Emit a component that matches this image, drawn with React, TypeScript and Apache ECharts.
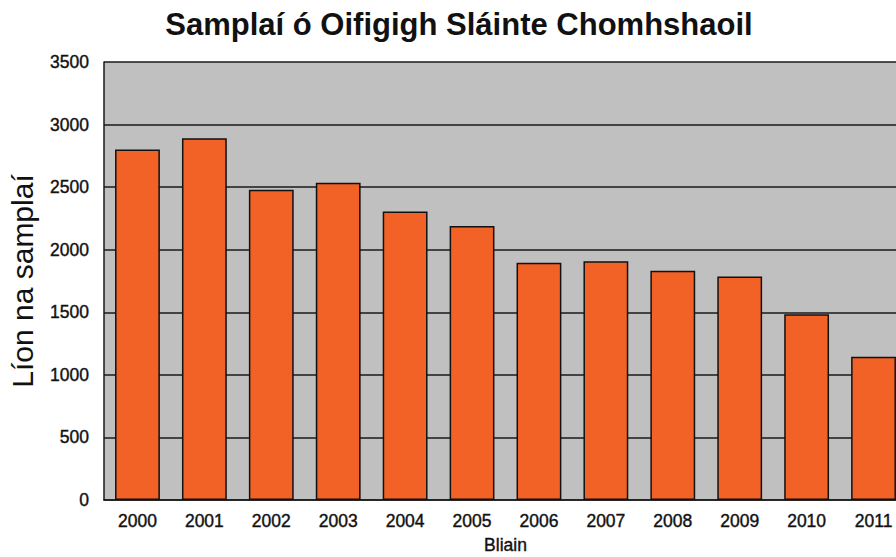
import React, { useEffect, useRef } from "react";
import * as echarts from "echarts";

const categories = ["2000", "2001", "2002", "2003", "2004", "2005", "2006", "2007", "2008", "2009", "2010", "2011"];
const samples = [2800, 2890, 2480, 2536, 2305, 2189, 1895, 1908, 1831, 1785, 1484, 1145];
const yTicks = { min: 0, max: 3500, interval: 500 };

const titleText = "Samplaí ó Oifigigh Sláinte Chomhshaoil";
const yName = "Líon na samplaí";
const xName = "Bliain";

export default function App() {
  const ref = useRef<HTMLDivElement>(null);
  useEffect(() => {
    if (!ref.current) return;
    const chart = echarts.init(ref.current, null, { renderer: "svg" });
    const font = "'Liberation Sans', Arial, sans-serif";
    const heavy = { textBorderColor: "#111", textBorderWidth: 0.4 };
    chart.setOption({
      animation: false,
      backgroundColor: "#ffffff",
      title: {
        text: titleText,
        left: 454,
        textAlign: "center",
        top: 4,
        textStyle: { fontFamily: font, fontSize: 31, fontWeight: "bold", color: "#111" },
      },
      grid: {
        left: 104,
        top: 62,
        bottom: 57,
        right: -11,
        outerBoundsMode: "none",
        containLabel: false,
        show: true,
        backgroundColor: "#c0c0c0",
        borderWidth: 0,
      },
      xAxis: {
        type: "category",
        data: categories,
        name: xName,
        nameLocation: "middle",
        nameGap: 36,
        nameTextStyle: { fontFamily: font, fontSize: 17.5, color: "#111", ...heavy },
        axisLine: { show: true, lineStyle: { color: "#1a1a1a", width: 1.5 } },
        axisTick: { show: false },
        axisLabel: { fontFamily: font, fontSize: 17.5, color: "#111", margin: 12, ...heavy },
      },
      yAxis: {
        type: "value",
        min: yTicks.min,
        max: yTicks.max,
        interval: yTicks.interval,
        name: yName,
        nameLocation: "middle",
        nameGap: 67,
        nameTextStyle: { fontFamily: font, fontSize: 30, color: "#111" },
        axisLine: { show: true, lineStyle: { color: "#1a1a1a", width: 1.5 } },
        axisTick: { show: false },
        axisLabel: {
          fontFamily: font,
          fontSize: 17.5,
          color: "#111",
          margin: 15,
          ...heavy,
          formatter: (v: number) => String(v),
        },
        splitLine: { show: true, lineStyle: { color: "#1a1a1a", width: 1.5 } },
      },
      series: [
        {
          type: "bar",
          data: samples,
          barCategoryGap: "33%",
          itemStyle: { color: "#f26125", borderColor: "#111", borderWidth: 1.5 },
        },
      ],
    });
    return () => chart.dispose();
  }, []);
  return (
    <div
      ref={ref}
      style={{ position: "fixed", left: 0, top: 0, width: 896, height: 557 }}
    />
  );
}
